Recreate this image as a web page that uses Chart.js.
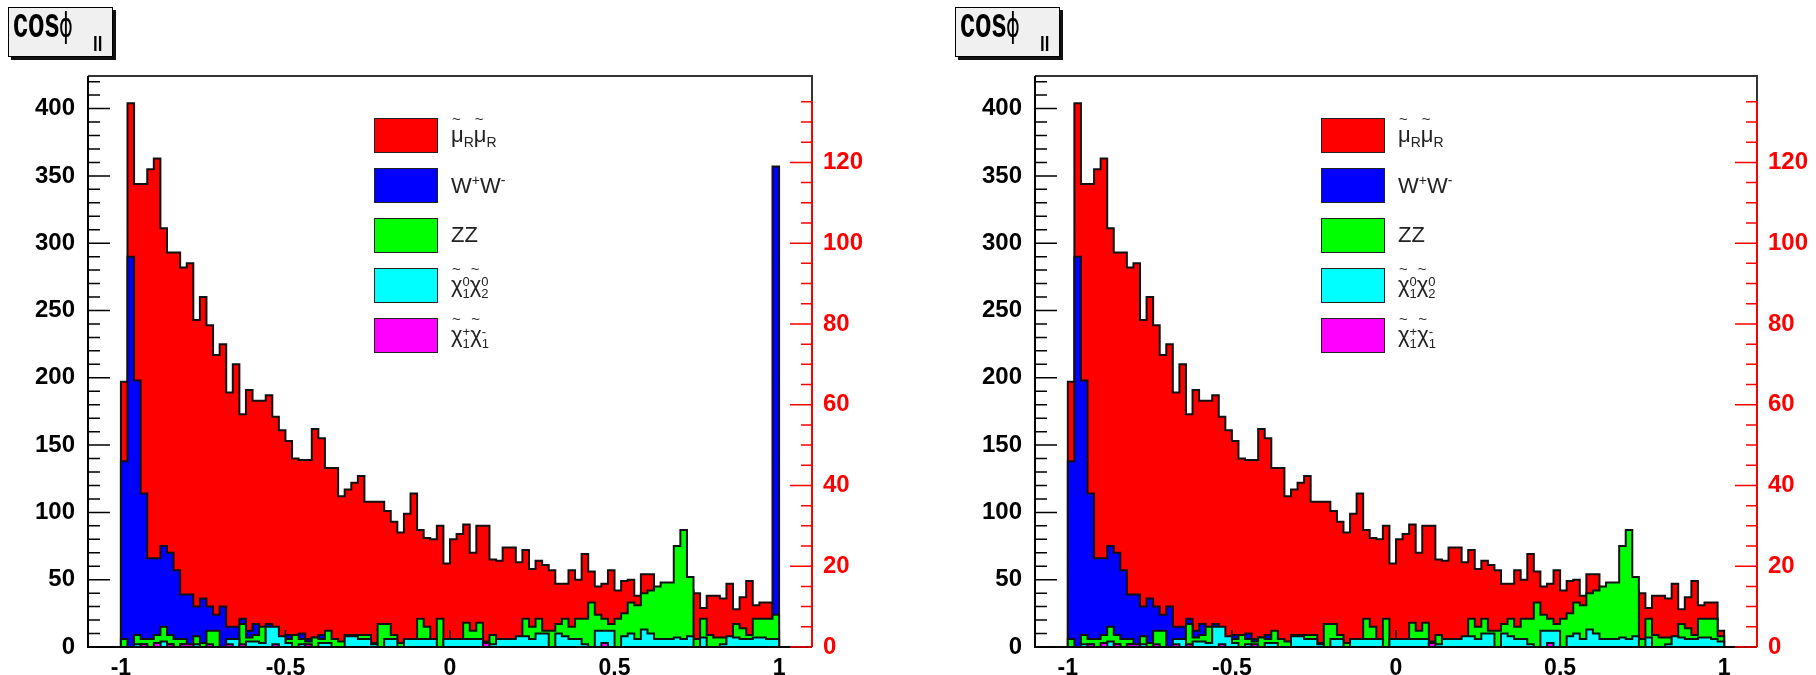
<!DOCTYPE html>
<html>
<head>
<meta charset="utf-8">
<title>cos phi ll</title>
<script src="https://cdn.jsdelivr.net/npm/chart.js@4.4.1/dist/chart.umd.min.js"></script>
<style>
  body { margin: 0; background: #fff; }
  #page { position: relative; width: 1816px; height: 675px; overflow: hidden; font-family: "Liberation Sans", Arial, sans-serif; }
  .panel { position: absolute; top: 0; width: 908px; height: 675px; }
  .panel canvas { position: absolute; left: 0; top: 0; }
  .title { position: absolute; top: 7px; width: 103px; height: 48px; background: #f0f0f0; border: 1px solid #000; box-shadow: 3px 3px 0 #111; }
  .title span { position: absolute; transform-origin: 0 0; white-space: nowrap; line-height: 1; }
  .title .cos { left: 4px; top: -6px; font-weight: bold; font-size: 27px; transform: scale(1, 1.6); }
  .title .phi { left: 50px; top: 1px; font-family: "DejaVu Sans", sans-serif; font-size: 28px; transform: scale(0.75, 1.2); }
  .title .ll { left: 84px; top: 26px; font-weight: bold; font-size: 17px; transform: scale(1, 1.2); }
  .legend { position: absolute; top: 118px; }
  .legend .row { position: relative; height: 50px; }
  .legend .box { position: absolute; left: 0; top: 0; width: 62px; height: 33px; border: 1.5px solid #222; }
  .legend .lbl { position: absolute; left: 77px; top: 4px; font-size: 22px; color: #222; white-space: nowrap; }
  .lbl sub, .lbl sup { font-size: 14px; }
  .t { position: relative; display: inline-block; }
  .t::before { content: "~"; position: absolute; left: 1px; top: -12px; font-size: 15px; }
  .ss { display: inline-block; vertical-align: -6px; font-size: 13px; line-height: 12px; }
  .ss span { display: block; }
</style>
</head>
<body>
<div id="page"></div>
<script>
// histogram bins: 100 bins of 0.02 between -1 and 1
const binLow = -1;
const binHigh = 1;

const seriesNames = ['muR muR', 'W+W-', 'ZZ', 'chi10 chi20', 'chi1+ chi1-'];
const seriesLabels = [
  '<span class="t">μ</span><sub>R</sub><span class="t">μ</span><sub>R</sub>',
  'W<sup>+</sup>W<sup>-</sup>',
  'ZZ',
  '<span class="t">χ</span><span class="ss"><span>0</span><span>1</span></span><span class="t">χ</span><span class="ss"><span>0</span><span>2</span></span>',
  '<span class="t">χ</span><span class="ss"><span>+</span><span>1</span></span><span class="t">χ</span><span class="ss"><span>-</span><span>1</span></span>'
];
const seriesColors = ['#ff0000', '#0000ff', '#00ff00', '#00ffff', '#ff00ff'];

const muR = [197,404,344,344,355,363,311,293,293,282,
             285,243,260,239,217,225,189,210,173,191,
             183,183,187,171,161,153,140,139,139,162,
             155,133,133,112,117,122,127,108,108,108,
             101,93,85,99,114,87,81,80,90,62,
             80,84,91,70,90,90,65,64,74,74,
             63,72,58,64,61,57,47,47,57,50,
             69,56,45,47,57,42,49,50,38,54,
             54,42,44,40,46,38,42,40,29,38,
             38,36,47,28,37,49,31,33,33,12];
const ww = [138,290,198,114,66,66,75,70,57,39,
            39,30,36,30,24,30,15,15,21,12,
            17,10,17,8,6,9,4,10,6,7,
            9,4,5,3,2,3,1,3,0,1,
            0,2,0,0,0,0,0,0,0,0,
            0,0,0,0,0,4,0,0,0,0,
            0,0,0,0,0,0,0,0,0,0,
            0,0,0,0,0,0,0,0,0,0,
            0,0,0,0,0,0,0,0,0,0,
            0,0,0,0,0,0,0,0,0,357];
const zz = [6,0,9,6,6,9,15,9,6,6,
            0,8,3,12,12,0,0,3,17,7,
            9,15,5,5,0,6,9,6,4,7,
            6,12,6,4,9,9,9,9,3,17,
            17,9,3,6,3,21,15,6,21,2,
            0,2,18,12,18,0,9,4,4,4,
            0,21,15,21,12,12,17,21,15,21,
            21,33,24,21,17,21,25,33,31,40,
            42,45,48,48,75,87,52,6,21,9,
            7,7,0,17,14,9,21,21,21,24];
const chi12 = [0,0,2,2,0,0,4,2,0,2,
               0,2,0,0,0,0,6,6,0,4,
               4,3,15,15,8,3,0,2,0,0,
               3,3,0,0,8,8,6,6,2,0,
               6,6,0,6,6,6,6,6,0,6,
               6,6,6,6,6,2,2,6,6,6,
               8,8,6,10,10,0,10,8,6,6,
               2,0,12,12,12,0,8,10,6,13,
               10,6,6,6,7,6,8,0,7,0,
               0,2,8,7,6,6,7,7,6,6];
const chipm = [0,0,0,2,0,3,0,2,0,2,
               2,0,0,2,0,0,2,0,2,0,
               0,0,0,2,0,0,0,0,2,0,
               0,0,0,0,0,0,0,0,0,0,
               0,0,0,0,0,0,0,0,0,0,
               0,0,0,0,0,3,0,0,0,0,
               0,0,0,0,0,0,0,0,0,0,
               0,0,0,3,0,0,0,0,0,0,
               0,0,0,0,0,0,0,0,0,0,
               0,0,0,0,0,0,0,0,0,0];
// right panel differs only in the last bin (muR, ww, zz, chi12, chipm)
const lastBinRight = [12, 0, 8, 4, 0];

const xTicks = [-1, -0.5, 0, 0.5, 1];
const yTicks = [0, 50, 100, 150, 200, 250, 300, 350, 400];
const y2Ticks = [0, 20, 40, 60, 80, 100, 120];

const yMax = 424.2;
const y2Max = yMax / 3;
const redAxisTop = 135;

const panels = [
  { left: 0, frameLeft: 88, frameRight: 812, values: [muR, ww, zz, chi12, chipm] },
  { left: 908, frameLeft: 127, frameRight: 849,
    values: [muR, ww, zz, chi12, chipm].map((s, i) => s.slice(0, -1).concat([lastBinRight[i]])) }
];

function histPoints(vals) {
  const w = (binHigh - binLow) / vals.length;
  const pts = [{ x: binLow, y: 0 }];
  vals.forEach((v, i) => pts.push({ x: binLow + i * w, y: v }));
  pts.push({ x: binHigh, y: 0 });
  return pts;
}

Chart.defaults.font.family = '"Liberation Sans", Arial, sans-serif';

// ROOT style ticks drawn inside the frame
const rootAxes = {
  id: 'rootAxes',
  afterDatasetDraw(chart, args) {
    if (args.index !== 0) return;
    const { ctx, chartArea: a, scales: { x } } = chart;
    ctx.save();
    ctx.strokeStyle = '#000';
    ctx.lineWidth = 1.5;
    ctx.beginPath();
    for (let k = -11; k <= 11; k++) {
      const px = x.getPixelForValue(k / 10);
      const len = k % 5 === 0 ? 17 : 9;
      ctx.moveTo(px, a.bottom);
      ctx.lineTo(px, a.bottom - len);
    }
    ctx.stroke();
    ctx.restore();
  },
  afterDraw(chart) {
    const { ctx, chartArea: a, scales: { y, y2 } } = chart;
    ctx.save();
    const redTop = y2.getPixelForValue(redAxisTop);
    ctx.lineWidth = 2;
    ctx.strokeStyle = '#333';
    ctx.beginPath();
    ctx.moveTo(a.left, a.top); ctx.lineTo(a.right, a.top);
    ctx.lineTo(a.right, redTop);
    ctx.stroke();
    ctx.strokeStyle = '#000';
    ctx.beginPath();
    ctx.moveTo(a.left, a.top); ctx.lineTo(a.left, a.bottom); ctx.lineTo(a.right, a.bottom);
    ctx.stroke();
    ctx.lineWidth = 1.5;
    ctx.beginPath();
    for (let v = 0; v <= yMax; v += 10) {
      const py = y.getPixelForValue(v);
      const len = v % 50 === 0 ? 22 : 12;
      ctx.moveTo(a.left, py); ctx.lineTo(a.left + len, py);
    }
    ctx.stroke();
    ctx.strokeStyle = '#ff0000';
    ctx.lineWidth = 2;
    ctx.beginPath();
    ctx.moveTo(a.right, y2.getPixelForValue(0)); ctx.lineTo(a.right, redTop);
    ctx.stroke();
    ctx.lineWidth = 1.5;
    ctx.beginPath();
    for (let v = 0; v <= redAxisTop; v += 5) {
      const py = y2.getPixelForValue(v);
      const len = v % 20 === 0 ? 22 : 11;
      ctx.moveTo(a.right, py); ctx.lineTo(a.right - len, py);
    }
    ctx.stroke();
    ctx.restore();
  }
};

const page = document.getElementById('page');

panels.forEach(p => {
  const div = document.createElement('div');
  div.className = 'panel';
  div.style.left = p.left + 'px';
  page.appendChild(div);

  const canvas = document.createElement('canvas');
  canvas.width = 908;
  canvas.height = 675;
  div.appendChild(canvas);

  const title = document.createElement('div');
  title.className = 'title';
  title.style.left = (p.frameLeft - 80) + 'px';
  title.innerHTML = '<span class="cos">cos</span><span class="phi">ϕ</span><span class="ll">ll</span>';
  div.appendChild(title);

  const legend = document.createElement('div');
  legend.className = 'legend';
  legend.style.left = (p.frameLeft + 286) + 'px';
  legend.innerHTML = seriesLabels.map((lbl, i) =>
    '<div class="row"><div class="box" style="background:' + seriesColors[i] + '"></div><div class="lbl">' + lbl + '</div></div>'
  ).join('');
  div.appendChild(legend);

  new Chart(canvas, {
    type: 'line',
    data: {
      datasets: p.values.map((vals, i) => ({
        label: seriesNames[i],
        data: histPoints(vals),
        stepped: true,
        fill: 'origin',
        backgroundColor: seriesColors[i],
        borderColor: '#111',
        borderWidth: 2,
        pointRadius: 0,
        order: p.values.length - i
      }))
    },
    options: {
      responsive: false,
      animation: false,
      devicePixelRatio: 1,
      layout: { padding: { top: 76, left: 0, right: 0, bottom: 0 } },
      plugins: { legend: { display: false }, tooltip: { enabled: false } },
      scales: {
        x: {
          type: 'linear', min: -1.1, max: 1.1,
          grid: { display: false }, border: { display: false },
          afterBuildTicks: s => { s.ticks = xTicks.map(v => ({ value: v })); },
          afterFit: s => { s.height = 28; },
          ticks: { autoSkip: false, maxRotation: 0, padding: 0, color: '#000',
                   font: { size: 23, weight: 'bold' }, callback: v => String(v) }
        },
        y: {
          position: 'left', min: 0, max: yMax,
          grid: { display: false }, border: { display: false },
          afterBuildTicks: s => { s.ticks = yTicks.map(v => ({ value: v })); },
          afterFit: s => { s.width = p.frameLeft; },
          ticks: { autoSkip: false, padding: 5, color: '#000', font: { size: 24, weight: 'bold' } }
        },
        y2: {
          position: 'right', min: 0, max: y2Max,
          grid: { display: false }, border: { display: false },
          afterBuildTicks: s => { s.ticks = y2Ticks.map(v => ({ value: v })); },
          afterFit: s => { s.width = 908 - p.frameRight; },
          ticks: { autoSkip: false, padding: 3, color: '#ff0000', font: { size: 24, weight: 'bold' } }
        }
      }
    },
    plugins: [rootAxes]
  });
});
</script>
</body>
</html>
